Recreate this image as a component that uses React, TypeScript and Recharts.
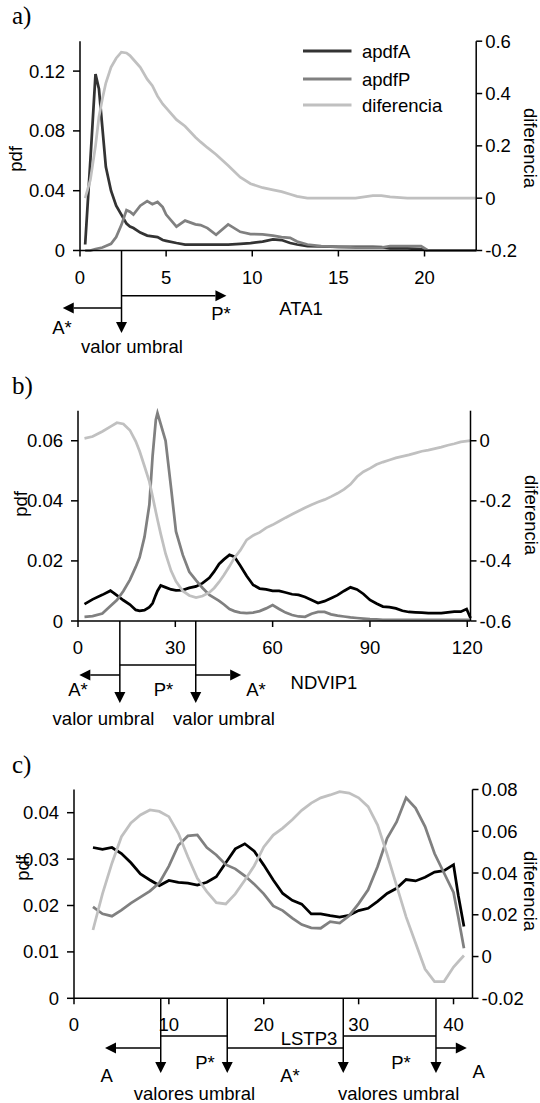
import React from 'react';
import { LineChart, Line, XAxis, YAxis, ReferenceLine } from 'recharts';

const SANS = "'Liberation Sans', Arial, Helvetica, sans-serif";
const SERIF = "'Liberation Serif', 'Times New Roman', serif";
const FS = 18.5;
const INK = '#000';

// ---------- series names / colours ----------
const seriesNames = ['apdfA', 'apdfP', 'diferencia'];
const colorsA = ['#333333', '#808080', '#c0c0c0'];
const colorsBC = ['#000000', '#808080', '#c0c0c0'];

// ---------- a) ATA1 ----------
const ataX = [0.3, 0.6, 0.9, 1.1, 1.3, 1.5, 1.8, 2.1, 2.4, 2.7, 2.9, 3.1, 3.5, 3.9, 4.2, 4.5, 4.8, 5.0, 5.6, 6.1, 6.7, 7.0, 7.4, 7.9, 8.6, 9.3, 9.9, 10.6, 11.2, 11.7, 12.2, 12.6, 13.2, 14.0, 15.0, 16.0, 17.0, 17.5, 18.0, 19.0, 19.8, 20.2, 21.0, 23.0];
const ataApdfA = [0.004, 0.06, 0.118, 0.108, 0.082, 0.056, 0.04, 0.03, 0.024, 0.018, 0.016, 0.015, 0.012, 0.010, 0.0095, 0.009, 0.007, 0.0065, 0.005, 0.004, 0.004, 0.004, 0.004, 0.004, 0.004, 0.0045, 0.005, 0.006, 0.0075, 0.007, 0.005, 0.004, 0.003, 0.0027, 0.0025, 0.0025, 0.0025, 0.0022, 0.0015, 0.0015, 0.001, 0, 0, 0];
const ataApdfP = [0, 0, 0.001, 0.0015, 0.002, 0.003, 0.0045, 0.009, 0.017, 0.027, 0.026, 0.024, 0.030, 0.033, 0.031, 0.0325, 0.029, 0.024, 0.016, 0.020, 0.0175, 0.017, 0.015, 0.0105, 0.0175, 0.0125, 0.011, 0.0108, 0.010, 0.009, 0.0085, 0.006, 0.004, 0.003, 0.0025, 0.002, 0.002, 0.002, 0.003, 0.003, 0.003, 0, 0, 0];
const ataDiferencia = [0.0, 0.07, 0.2, 0.31, 0.38, 0.44, 0.50, 0.535, 0.558, 0.555, 0.545, 0.53, 0.50, 0.455, 0.43, 0.39, 0.36, 0.345, 0.30, 0.275, 0.233, 0.215, 0.193, 0.167, 0.125, 0.08, 0.055, 0.04, 0.032, 0.025, 0.015, 0.007, 0.0, 0.0, 0.0, 0.0, 0.01, 0.01, 0.005, 0.0, 0.0, 0.0, 0.0, 0.0];
const ataXTicks = [0, 5, 10, 15, 20];
const ataPdfTicks = [0, 0.04, 0.08, 0.12];
const ataDifTicks = [-0.2, 0, 0.2, 0.4, 0.6];
const ataThresholds = [2.41];
const ataArrowTips = [-1.0, 8.5];

// ---------- b) NDVIP1 ----------
const ndviX = [2, 4.5, 7.5, 10, 12, 14, 16, 17.8, 19, 20.5, 22, 23, 24, 24.5, 25.5, 27, 28.7, 30.2, 32.3, 34.3, 36.4, 38.4, 40.5, 42, 43.5, 45, 46.7, 48.2, 50, 52, 54, 56, 58, 60, 62, 64, 66, 68, 70, 72, 74, 76, 78, 80, 82, 84, 86, 88, 90, 92, 94, 96, 98, 100, 102, 104, 106, 108, 110, 112, 114, 116, 118, 119.8, 121];
const ndviApdfA = [0.0056, 0.0072, 0.0087, 0.0101, 0.0085, 0.0069, 0.0055, 0.0037, 0.0034, 0.0036, 0.0046, 0.0059, 0.0087, 0.0100, 0.0118, 0.0112, 0.0105, 0.0102, 0.0103, 0.0110, 0.0115, 0.0126, 0.0144, 0.0165, 0.0190, 0.0205, 0.0220, 0.0214, 0.0185, 0.0150, 0.0120, 0.0108, 0.0105, 0.0100, 0.0100, 0.0095, 0.0089, 0.0087, 0.0080, 0.0070, 0.0060, 0.0066, 0.0076, 0.0086, 0.0100, 0.0112, 0.0105, 0.0090, 0.0070, 0.0058, 0.0048, 0.0046, 0.0042, 0.0034, 0.0030, 0.0029, 0.0028, 0.0026, 0.0026, 0.0026, 0.0029, 0.0031, 0.0031, 0.0040, 0.0010];
const ndviApdfP = [0.0014, 0.0016, 0.0025, 0.0050, 0.0070, 0.0100, 0.0137, 0.0180, 0.0212, 0.0280, 0.0387, 0.0550, 0.0670, 0.0692, 0.0655, 0.0600, 0.0442, 0.0298, 0.0220, 0.0164, 0.0135, 0.0110, 0.0087, 0.0077, 0.0067, 0.0055, 0.0040, 0.0033, 0.0028, 0.0026, 0.0028, 0.0033, 0.0042, 0.0053, 0.0040, 0.0028, 0.0020, 0.0015, 0.0014, 0.0024, 0.0030, 0.0030, 0.0022, 0.0018, 0.0015, 0.0012, 0.0010, 0.0008, 0.0006, 0.0005, 0.0004, 0.0004, 0.0004, 0.0004, 0.0004, 0.0004, 0.0004, 0.0004, 0.0004, 0.0004, 0.0004, 0.0004, 0.0004, 0.0004, 0.0004];
const ndviDiferencia = [0.008, 0.014, 0.031, 0.047, 0.060, 0.056, 0.035, -0.002, -0.035, -0.085, -0.136, -0.186, -0.237, -0.262, -0.31, -0.376, -0.433, -0.468, -0.50, -0.515, -0.522, -0.517, -0.505, -0.49, -0.47, -0.447, -0.418, -0.39, -0.365, -0.33, -0.315, -0.305, -0.29, -0.28, -0.268, -0.256, -0.245, -0.234, -0.223, -0.213, -0.204, -0.196, -0.186, -0.175, -0.162, -0.145, -0.12, -0.103, -0.092, -0.079, -0.071, -0.064, -0.057, -0.052, -0.047, -0.041, -0.035, -0.031, -0.026, -0.021, -0.015, -0.01, -0.004, -0.001, 0.0];
const ndviXTicks = [0, 30, 60, 90, 120];
const ndviPdfTicks = [0, 0.02, 0.04, 0.06];
const ndviDifTicks = [-0.6, -0.4, -0.2, 0];
const ndviThresholds = [12.9, 36.3];
const ndviArrowTips = [0.4, 50.3];

// ---------- c) LSTP3 ----------
const lstX = [2, 3, 4, 5, 6, 7, 8, 9, 10, 11, 12, 13, 14, 15, 16, 17, 18, 19, 20, 21, 22, 23, 24, 25, 26, 27, 28, 29, 30, 31, 32, 33, 34, 35, 36, 37, 38, 39, 40, 40.5, 41.1];
const lstApdfA = [0.0325, 0.0321, 0.0325, 0.0312, 0.0292, 0.0268, 0.0255, 0.0243, 0.0254, 0.0250, 0.0248, 0.0244, 0.0250, 0.0262, 0.0292, 0.0322, 0.0333, 0.0317, 0.0287, 0.0255, 0.0226, 0.0211, 0.0203, 0.0182, 0.0182, 0.0178, 0.0175, 0.0179, 0.0189, 0.0194, 0.0209, 0.0226, 0.0237, 0.0256, 0.0253, 0.0261, 0.0272, 0.0275, 0.0288, 0.0222, 0.0155];
const lstApdfP = [0.0197, 0.0182, 0.0177, 0.0190, 0.0205, 0.0218, 0.0231, 0.0249, 0.0285, 0.0330, 0.0350, 0.0352, 0.0325, 0.0309, 0.0288, 0.0279, 0.0264, 0.0246, 0.0225, 0.0199, 0.0189, 0.0173, 0.0159, 0.0152, 0.0151, 0.0165, 0.0162, 0.0178, 0.0204, 0.0234, 0.0284, 0.0345, 0.0380, 0.0432, 0.0410, 0.0370, 0.0312, 0.0270, 0.0228, 0.0175, 0.0108];
const lstDiferencia = [0.0127, 0.0300, 0.0447, 0.0574, 0.0640, 0.0678, 0.0702, 0.0695, 0.0670, 0.0590, 0.0478, 0.0375, 0.0311, 0.0258, 0.0252, 0.0300, 0.0365, 0.0435, 0.0525, 0.0582, 0.0615, 0.0655, 0.0700, 0.0735, 0.0760, 0.0774, 0.0790, 0.0783, 0.0760, 0.0718, 0.0630, 0.0490, 0.0340, 0.0190, 0.0065, -0.0060, -0.0120, -0.0120, -0.0050, -0.0025, 0.0005];
const lstXTicks = [0, 10, 20, 30, 40];
const lstPdfTicks = [0, 0.01, 0.02, 0.03, 0.04];
const lstDifTicks = [-0.02, 0, 0.02, 0.04, 0.06, 0.08];
const lstThresholds = [9.14, 16.15, 28.38, 38.15];
const lstArrowTips = [3.27, 41.4];

const rowsOf = (xs: number[], a: number[], p: number[], d: number[]) =>
  xs.map((x, i) => ({ x, [seriesNames[0]]: a[i], [seriesNames[1]]: p[i], [seriesNames[2]]: d[i] }));

// ---------- annotation shapes ----------
function arrowPath(x1: number, y1: number, x2: number, y2: number, head: boolean) {
  const dx = x2 - x1, dy = y2 - y1;
  const len = Math.hypot(dx, dy) || 1;
  const ux = dx / len, uy = dy / len;
  const L = head ? 11 : 0, W = 5.5;
  const bx = x2 - ux * L, by = y2 - uy * L;
  return (
    <g>
      <line x1={x1} y1={y1} x2={bx} y2={by} stroke={INK} strokeWidth={1.5} />
      {head && (
        <polygon points={`${x2},${y2} ${bx - uy * W},${by + ux * W} ${bx + uy * W},${by - ux * W}`} fill={INK} />
      )}
    </g>
  );
}
const hShape = (dy: number, head: boolean) => (p: any) => {
  const base = Math.max(p.y1, p.y2);
  return arrowPath(p.x1, base + dy, p.x2, base + dy, head);
};
const vShape = (len: number) => (p: any) => {
  const base = Math.max(p.y1, p.y2);
  return arrowPath(p.x1, base, p.x1, base + len, true);
};

const vArrow = (t: number, len: number, k: string) => (
  <ReferenceLine key={k} yAxisId="L" x={t} ifOverflow="visible" shape={vShape(len)} />
);
const hSeg = (a: number, b: number, dy: number, head: boolean, k: string) => (
  <ReferenceLine key={k} yAxisId="L" ifOverflow="visible" segment={[{ x: a, y: 0 }, { x: b, y: 0 }]} shape={hShape(dy, head)} />
);

const tickStyle = { fontSize: FS, fill: INK, fontFamily: SANS };
const axisStyle = { stroke: INK, strokeWidth: 1.5 };

type PanelProps = {
  top: number; height: number;
  margin: { top: number; right: number; bottom: number; left: number };
  rows: any[]; colors: string[];
  xDomain: [number, number]; xTicks: number[];
  pdfDomain: [number, number]; pdfTicks: number[];
  difDomain: [number, number]; difTicks: number[];
  annotations: React.ReactNode[];
};

function Panel(pp: PanelProps) {
  return (
    <div style={{ position: 'absolute', left: 0, top: pp.top }}>
      <LineChart width={540} height={pp.height} data={pp.rows} margin={pp.margin}>
        <XAxis dataKey="x" type="number" domain={pp.xDomain} ticks={pp.xTicks} interval={0}
          tick={tickStyle} tickSize={6} tickMargin={14} axisLine={axisStyle} tickLine={axisStyle} height={30} />
        <YAxis yAxisId="L" orientation="left" domain={pp.pdfDomain} ticks={pp.pdfTicks} interval={0}
          tick={tickStyle} tickSize={7} tickMargin={8} axisLine={axisStyle} tickLine={axisStyle} width={60} />
        <YAxis yAxisId="R" orientation="right" domain={pp.difDomain} ticks={pp.difTicks} interval={0}
          tick={tickStyle} tickSize={6} tickMargin={3} axisLine={axisStyle} tickLine={axisStyle} width={50} />
        <Line yAxisId="L" type="linear" dataKey={seriesNames[0]} stroke={pp.colors[0]} strokeWidth={2.75} dot={false} isAnimationActive={false} />
        <Line yAxisId="L" type="linear" dataKey={seriesNames[1]} stroke={pp.colors[1]} strokeWidth={2.75} dot={false} isAnimationActive={false} />
        <Line yAxisId="R" type="linear" dataKey={seriesNames[2]} stroke={pp.colors[2]} strokeWidth={2.75} dot={false} isAnimationActive={false} />
        {pp.annotations}
      </LineChart>
    </div>
  );
}

function Txt({ x, y, children, anchor = 'middle', size = FS, family = SANS, rotate = 0 }: any) {
  if (rotate) {
    return (
      <text transform={`translate(${x},${y}) rotate(${rotate})`} textAnchor="middle" dominantBaseline="central"
        fontSize={size} fontFamily={family} fill={INK}>{children}</text>
    );
  }
  return <text x={x} y={y} textAnchor={anchor} fontSize={size} fontFamily={family} fill={INK}>{children}</text>;
}

export default function App() {
  const annA = [
    vArrow(ataThresholds[0], 82.5, 'av'),
    hSeg(ataThresholds[0], ataArrowTips[1], 45.2, true, 'ar'),
    hSeg(ataThresholds[0], ataArrowTips[0], 57.5, true, 'al'),
  ];
  const annB = [
    vArrow(ndviThresholds[0], 82, 'bv0'),
    vArrow(ndviThresholds[1], 82, 'bv1'),
    hSeg(ndviThresholds[0], ndviThresholds[1], 44, false, 'bm'),
    hSeg(ndviThresholds[0], ndviArrowTips[0], 54, true, 'bl'),
    hSeg(ndviThresholds[1], ndviArrowTips[1], 54, true, 'br'),
  ];
  const annC = [
    ...lstThresholds.map((t, i) => vArrow(t, 74.7, 'cv' + i)),
    hSeg(lstThresholds[0], lstThresholds[1], 37.7, false, 'cu0'),
    hSeg(lstThresholds[2], lstThresholds[3], 37.7, false, 'cu1'),
    hSeg(lstThresholds[1], lstThresholds[2], 49.7, false, 'cm'),
    hSeg(lstThresholds[0], lstArrowTips[0], 49.7, true, 'cl'),
    hSeg(lstThresholds[3], lstArrowTips[1], 49.7, true, 'cr'),
  ];

  const legendRows = [51, 79, 105];

  return (
    <div style={{ position: 'absolute', left: 0, top: 0, width: 540, height: 1103, background: '#fff', overflow: 'hidden' }}>
      <Panel top={0} height={370} margin={{ top: 41.2, right: 13.8, bottom: 89.5, left: 20 }}
        rows={rowsOf(ataX, ataApdfA, ataApdfP, ataDiferencia)} colors={colorsA}
        xDomain={[0, 23]} xTicks={ataXTicks} pdfDomain={[0, 0.14]} pdfTicks={ataPdfTicks}
        difDomain={[-0.2, 0.6]} difTicks={ataDifTicks} annotations={annA} />
      <Panel top={370} height={370} margin={{ top: 40.7, right: 19.5, bottom: 89, left: 18 }}
        rows={rowsOf(ndviX, ndviApdfA, ndviApdfP, ndviDiferencia)} colors={colorsBC}
        xDomain={[0, 121]} xTicks={ndviXTicks} pdfDomain={[0, 0.07]} pdfTicks={ndviPdfTicks}
        difDomain={[-0.6, 0.1]} difTicks={ndviDifTicks} annotations={annB} />
      <Panel top={740} height={363} margin={{ top: 49.5, right: 17.5, bottom: 74.7, left: 14 }}
        rows={rowsOf(lstX, lstApdfA, lstApdfP, lstDiferencia)} colors={colorsBC}
        xDomain={[0, 42]} xTicks={lstXTicks} pdfDomain={[0, 0.045]} pdfTicks={lstPdfTicks}
        difDomain={[-0.02, 0.08]} difTicks={lstDifTicks} annotations={annC} />

      <svg width={540} height={1103} style={{ position: 'absolute', left: 0, top: 0, pointerEvents: 'none' }}>
        {/* panel a */}
        <Txt x={12} y={24} anchor="start" size={25} family={SERIF}>a)</Txt>
        <Txt x={15} y={159} rotate={-90}>pdf</Txt>
        <Txt x={530} y={148} rotate={90}>diferencia</Txt>
        {seriesNames.map((n, i) => (
          <g key={n}>
            <line x1={303} x2={351.5} y1={legendRows[i]} y2={legendRows[i]} stroke={colorsA[i]} strokeWidth={3} />
            <Txt x={362} y={legendRows[i] + 6.6} anchor="start">{n}</Txt>
          </g>
        ))}
        <Txt x={301} y={315}>ATA1</Txt>
        <Txt x={221} y={320}>P*</Txt>
        <Txt x={62} y={333.5}>A*</Txt>
        <Txt x={132} y={353}>valor umbral</Txt>

        {/* panel b */}
        <Txt x={12} y={394} anchor="start" size={25} family={SERIF}>b)</Txt>
        <Txt x={20} y={504} rotate={-90}>pdf</Txt>
        <Txt x={531} y={515} rotate={90}>diferencia</Txt>
        <Txt x={324} y={689}>NDVIP1</Txt>
        <Txt x={78} y={695.5}>A*</Txt>
        <Txt x={163.5} y={695.5}>P*</Txt>
        <Txt x={256} y={695.5}>A*</Txt>
        <Txt x={103.5} y={725}>valor umbral</Txt>
        <Txt x={224} y={725}>valor umbral</Txt>

        {/* panel c */}
        <Txt x={12} y={773} anchor="start" size={25} family={SERIF}>c)</Txt>
        <Txt x={22} y={868} rotate={-90}>pdf</Txt>
        <Txt x={530} y={891} rotate={90}>diferencia</Txt>
        <Txt x={309} y={1045}>LSTP3</Txt>
        <Txt x={106.7} y={1082}>A</Txt>
        <Txt x={205} y={1069}>P*</Txt>
        <Txt x={290} y={1082}>A*</Txt>
        <Txt x={401} y={1069}>P*</Txt>
        <Txt x={478.6} y={1078}>A</Txt>
        <Txt x={194.5} y={1099.5}>valores umbral</Txt>
        <Txt x={398.6} y={1099.5}>valores umbral</Txt>
      </svg>
    </div>
  );
}
